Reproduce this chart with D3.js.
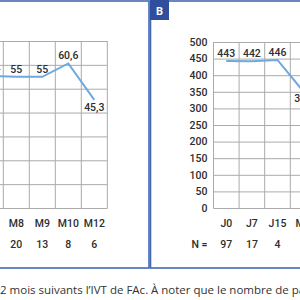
<!DOCTYPE html>
<html><head><meta charset="utf-8">
<script src="https://cdn.jsdelivr.net/npm/d3@7"></script>
<style>
html,body{margin:0;padding:0;background:#fff;overflow:hidden}
svg{display:block}
text{font-family:Roboto,"DejaVu Sans",sans-serif;fill:#2e2e2e}
</style></head><body>
<svg id="c" width="300" height="300"></svg>
<script>
// Panel A (partially visible)
const catsA = ["M6","M8","M9","M10","M12"];
const valsA = [55.4, 55, 55, 60.6, 45.3];
const labelsA = ["55,4","55","55","60,6","45,3"];
const nA = ["25","20","13","8","6"];
const yTicksA = [0,10,20,30,40,50,60,70];
// Panel B
const catsB = ["J0","J7","J15","M1"];
const valsB = [443, 442, 446, 352];
const labelsB = ["443","442","446","352"];
const nB = ["97","17","4","6"];
const yTicksB = [0,50,100,150,200,250,300,350,400,450,500];
const caption1 = "2 mois suivants l’IVT de FAc.";
const caption2 = "À noter que le nombre de patients";

const svg = d3.select("#c");
const blue = "#4468b8", badge = "#2f4f9d", grid = "#ababab", line = "#6ea8df";

// Panel frames
svg.append("rect").attr("x",-20).attr("y",1).attr("width",169).attr("height",267)
  .attr("fill","none").attr("stroke",blue).attr("stroke-width",1.6);
svg.append("rect").attr("x",150.5).attr("y",1).attr("width",170).attr("height",267)
  .attr("fill","none").attr("stroke",blue).attr("stroke-width",1.6);
svg.append("rect").attr("x",150).attr("y",0).attr("width",19).attr("height",20).attr("fill",badge);
svg.append("text").attr("x",159.5).attr("y",15).attr("text-anchor","middle")
  .style("fill","#fff").style("font-weight","bold").style("font-size","11px").text("B");

const fs = "10.5px", fw = "500";
function panel(cats, vals, labels, ns, ticks, xr, yTop, belowIdx, showAxis) {
  const x = d3.scaleBand().domain(cats).range(xr);
  const y = d3.scaleLinear().domain([0, d3.max(ticks)]).range([208, yTop]);
  const g = svg.append("g");
  g.selectAll(".h").data(ticks).join("line")
    .attr("x1", xr[0]).attr("x2", xr[1]).attr("y1", d=>y(d)+0.5).attr("y2", d=>y(d)+0.5)
    .attr("stroke", grid).attr("stroke-width",1);
  const bounds = cats.map(c=>x(c)).concat([xr[1]]);
  g.selectAll(".v").data(bounds).join("line")
    .attr("x1", d=>d).attr("x2", d=>d).attr("y1", y(d3.max(ticks))).attr("y2", y(0)+0.5)
    .attr("stroke", grid).attr("stroke-width",1);
  if (showAxis) {
    const ax = d3.axisLeft(y).tickValues(ticks).tickSize(0).tickPadding(6);
    const a = g.append("g").attr("transform",`translate(${xr[0]},0)`).call(ax);
    a.select(".domain").remove();
    a.selectAll("text").style("font-size",fs).style("font-weight",fw).style("fill","#2e2e2e").style("font-family","Roboto");
    g.append("text").attr("x", xr[0]-6).attr("y", 248).attr("text-anchor","end")
      .style("font-size",fs).style("font-weight",fw).text("N =");
  }
  const cx = c => x(c) + x.bandwidth()/2;
  g.append("path").datum(vals)
    .attr("d", d3.line().x((d,i)=>cx(cats[i])).y(d=>y(d)))
    .attr("fill","none").attr("stroke",line).attr("stroke-width",2);
  g.selectAll(".lab").data(vals).join("text")
    .attr("x",(d,i)=>cx(cats[i])).attr("y",(d,i)=> belowIdx.includes(i) ? y(d)+11 : y(d)-4)
    .attr("text-anchor","middle").style("font-size",fs).style("font-weight",fw).text((d,i)=>labels[i]);
  g.selectAll(".cat").data(cats).join("text")
    .attr("x",c=>cx(c)).attr("y",227).attr("text-anchor","middle").style("font-size",fs).style("font-weight",fw).text(c=>c);
  g.selectAll(".n").data(ns).join("text")
    .attr("x",(d,i)=>cx(cats[i])).attr("y",248).attr("text-anchor","middle").style("font-size",fs).style("font-weight",fw).text(d=>d);
}
panel(catsA, valsA, labelsA, nA, yTicksA, [3.3-26, 107.3], 41, [4], false);
panel(catsB, valsB, labelsB, nB, yTicksB, [213.5, 213.5+4*25.6], 42, [3], true);

svg.append("text").attr("x",0).attr("y",294)
  .style("font-family","'Open Sans',sans-serif").style("font-size","11.5px").style("fill","#333")
  .text(caption1);
svg.append("text").attr("x",151).attr("y",294)
  .style("font-family","'Open Sans',sans-serif").style("font-size","11.5px").style("fill","#333")
  .text(caption2);
</script></body></html>
